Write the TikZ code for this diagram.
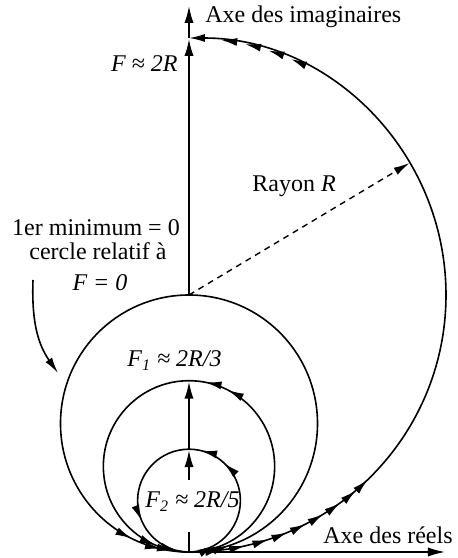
\documentclass[tikz,border=0pt]{standalone}
\usepackage{fontspec}
\setmainfont{Liberation Serif}
\usetikzlibrary{arrows.meta,positioning,decorations.markings}

\begin{document}
\begin{tikzpicture}[
    x=0.5pt, y=0.5pt,
    axis/.style={line width=1.3pt, -{Latex[length=9pt,width=4.6pt]}},
    curve/.style={line width=0.8pt},
    flow/.style={postaction={decorate, decoration={markings,
        mark=at position #1 with {\arrow{Latex[length=8pt,width=4pt]}}}}},
    lbl/.style={inner sep=0pt, font=\fontsize{12}{12}\selectfont}
]
\useasboundingbox (-189,-6) rectangle (268,552);

\coordinate (O) at (0,0);
\coordinate (top2R) at (0,514);
\coordinate (topF0) at (0,257);
\coordinate (topF1) at (0,171.3);
\coordinate (topF2) at (0,102.8);
\coordinate (imEnd) at (0,547);
\coordinate (reEnd) at (257,0);
\coordinate (gapLow) at (0,20);
\coordinate (gapHigh) at (0,72);
\coordinate (rim) at (220.5,389);
\coordinate (noteStart) at (-156,272);
\coordinate (noteEnd) at (-131,179);

% lieux de transfert
\draw[curve, flow=0.04, flow=0.07, flow=0.1, flow=0.125, flow=0.15, flow=0.175,
      flow=0.2, flow=0.225, flow=0.245, flow=0.87, flow=0.9, flow=0.93, flow=0.96,
      -{Latex[length=8pt,width=4pt]}]
    (O) arc[start angle=-90, end angle=90, radius=257];
\draw[curve, flow=0.05, flow=0.926, flow=0.965]
    (O) arc[start angle=-90, end angle=270, radius=128.5];
\draw[curve, flow=0.06, flow=0.425, flow=0.469, flow=0.936, flow=0.97]
    (O) arc[start angle=-90, end angle=270, radius=85.65];
\draw[curve, flow=0.08, flow=0.38, flow=0.462, flow=0.814, flow=0.962]
    (O) arc[start angle=-90, end angle=270, radius=51.4];

% axes
\draw[line width=1.3pt] (O) -- (gapLow);
\draw[axis] (gapHigh) -- (topF2);
\draw[axis] (topF2) -- (topF1);
\draw[axis] (topF0) -- (top2R);
\draw[axis] (top2R) -- (imEnd);
\draw[axis] (O) -- (reEnd);

\draw[line width=0.7pt, dash pattern=on 3pt off 2.5pt, -{Latex[length=8pt,width=4pt]}] (topF0) -- (rim);
\draw[curve, -{Latex[length=8pt,width=4pt]}] (noteStart) to[out=-92, in=125] (noteEnd);

\node[lbl, anchor=base west] (imLabel) at (16,529) {Axe des imaginaires};
\node[lbl, anchor=base west] (reLabel) at (134,9) {Axe des réels};
\node[lbl, anchor=base east] (twoR) at (-11,480) {\textit{F ≈ 2R}};
\node[lbl, anchor=base west] (rayon) at (63,360) {Rayon \textit{R}};
\node[lbl, anchor=base] (note1) at (-93,316) {1er minimum = 0};
\node[lbl, anchor=base] (note2) at (-91,292) {cercle relatif à};
\node[lbl, anchor=base] (note3) at (-89,261) {\textit{F = 0}};
\node[lbl, anchor=base west] (fOne) at (-62,185) {\textit{F\textsubscript{1} ≈ 2R/3}};
\node[lbl, anchor=base west] (fTwo) at (-44,44) {\textit{F\textsubscript{2} ≈ 2R/5}};
\end{tikzpicture}
\end{document}
